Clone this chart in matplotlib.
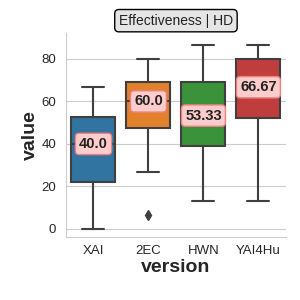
import matplotlib
matplotlib.use('Agg')
import matplotlib.pyplot as plt
import seaborn as sns

sns.set_style('whitegrid')
plt.rcParams['font.family'] = ['Liberation Sans', 'DejaVu Sans']

versions = ['XAI', '2EC', 'HWN', 'YAI4Hu']
colors = ['#3274a1', '#e1812c', '#3a923a', '#c03d3e']
med = [40.0, 60.0, 53.33, 66.67]
q1 = [22.0, 47.5, 39.2, 52.2]
q3 = [52.7, 69.0, 69.0, 80.0]
whislo = [0.0, 26.67, 13.33, 13.33]
whishi = [66.67, 80.0, 86.67, 86.67]
fliers = [[], [6.67], [], []]

stats = []
for i in range(len(versions)):
    stats.append(dict(med=med[i], q1=q1[i], q3=q3[i], whislo=whislo[i],
                      whishi=whishi[i], fliers=fliers[i], label=versions[i]))

fig = plt.figure(figsize=(3, 3), dpi=100)
ax = fig.add_axes([0.22, 0.21, 0.733, 0.68])
gray = '#3f3f3f'
bp = ax.bxp(stats, positions=range(len(versions)), widths=0.8, patch_artist=True,
            boxprops=dict(edgecolor=gray, linewidth=1.5),
            whiskerprops=dict(color=gray, linewidth=1.5),
            capprops=dict(color=gray, linewidth=1.5),
            medianprops=dict(color=gray, linewidth=1.5),
            flierprops=dict(marker='d', markerfacecolor=gray, markeredgecolor=gray, markersize=5))
for patch, c in zip(bp['boxes'], colors):
    patch.set_facecolor(c)

for i, m in enumerate(med):
    ax.text(i, m, str(m), ha='center', va='center', fontsize=10.5, fontweight='bold',
            color='#222222',
            bbox=dict(boxstyle='round,pad=0.25', facecolor='#ffcccc', edgecolor='#f08080', linewidth=1))

ax.set_xlim(-0.5, 3.5)
ax.set_ylim(-3.8, 92.2)
ax.set_yticks([0, 20, 40, 60, 80])
ax.set_xticks(range(len(versions)))
ax.set_xticklabels(versions)
ax.tick_params(labelsize=9.5, colors='#262626', length=0)
ax.tick_params(axis='y', pad=7)
ax.tick_params(axis='x', pad=6)
ax.grid(axis='x', visible=False)
ax.grid(axis='y', color='#cccccc', linewidth=0.8)
for s in ['top', 'right']:
    ax.spines[s].set_visible(False)
for s in ['left', 'bottom']:
    ax.spines[s].set_color('#cccccc')
ax.set_xlabel('version', fontsize=14, fontweight='bold', color='#262626', labelpad=1)
ax.set_ylabel('value', fontsize=14, fontweight='bold', color='#262626', labelpad=2)
ax.set_title('Effectiveness | HD', fontsize=10, color='#222222', pad=6,
             bbox=dict(boxstyle='round,pad=0.3', facecolor='#e5e5e5', edgecolor='black', linewidth=1))

fig.savefig('out.png', dpi=100)
